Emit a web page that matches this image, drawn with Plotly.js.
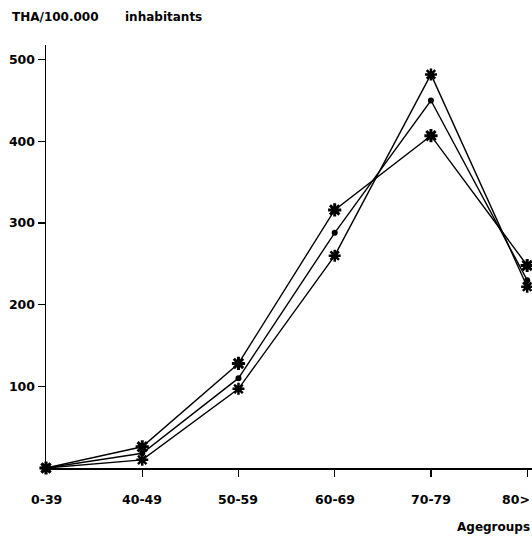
<!DOCTYPE html>
<html><head><meta charset="utf-8">
<script src="https://cdn.plot.ly/plotly-3.0.1.min.js"></script>
<style>body{margin:0;background:#fff}#c{width:532px;height:536px}</style>
</head><body><div id="c"></div>
<script>
const categories = ["0-39","40-49","50-59","60-69","70-79","80>"];
const seriesA = [0, 26, 128, 316, 407, 248];   // large asterisk, flattest peak
const seriesB = [0, 18, 110, 288, 450, 230];   // dots
const seriesC = [0, 10, 97, 260, 482, 222];    // asterisk, highest peak
const yTicks = [100, 200, 300, 400, 500];

const F = "DejaVu Sans, Arial, sans-serif";
const common = {type:'scatter', mode:'lines+markers', x:categories, cliponaxis:false,
  line:{color:'#000', width:1.4}, showlegend:false, hoverinfo:'skip'};
const traces = [
  Object.assign({}, common, {y:seriesA, marker:{symbol:'asterisk-open', size:11, color:'#000', line:{color:'#000', width:3}}}),
  Object.assign({}, common, {y:seriesB, marker:{symbol:'circle', size:6, color:'#000'}}),
  Object.assign({}, common, {y:seriesC, marker:{symbol:'asterisk-open', size:10, color:'#000', line:{color:'#000', width:2.5}}})
];

const annotations = categories.map((c,i)=>({
  x:c, y:0, xref:'x', yref:'y', text:'<b>'+c+'</b>', showarrow:false,
  xanchor: i===categories.length-1 ? 'right':'center', yanchor:'middle',
  xshift: i===categories.length-1 ? 5 : 0, yshift:-31,
  font:{family:F, size:12.5, color:'#000'}
}));
annotations.push({xref:'paper', yref:'paper', x:-0.074, y:1.066, xanchor:'left', yanchor:'middle',
  text:'<b>THA/100.000</b>', showarrow:false, font:{family:F, size:12, color:'#000'}});
annotations.push({xref:'paper', yref:'paper', x:0.158, y:1.066, xanchor:'left', yanchor:'middle',
  text:'<b>inhabitants</b>', showarrow:false, font:{family:F, size:12, color:'#000'}});
annotations.push({xref:'paper', yref:'paper', x:1, y:-0.139, xanchor:'right', yanchor:'middle',
  text:'<b>Agegroups</b>', showarrow:false, font:{family:F, size:12, color:'#000'}});

const layout = {
  width:532, height:536, paper_bgcolor:'#fff', plot_bgcolor:'#fff',
  margin:{l:46, r:0, t:45, b:68},
  xaxis:{type:'category', range:[0,5.05], showgrid:false, zeroline:false,
    showline:true, linecolor:'#000', linewidth:1.5, ticks:'outside', ticklen:7, tickwidth:1.2,
    tickcolor:'#000', showticklabels:false, tickvals:categories.slice(1)},
  yaxis:{range:[0,518], showgrid:false, zeroline:false, showline:true, linecolor:'#000', linewidth:1.5,
    ticks:'outside', ticklen:7, tickwidth:1.2, tickcolor:'#000', tickvals:yTicks,
    tickfont:{family:F, size:12.5, color:'#000', weight:'bold'}},
  annotations:annotations
};
Plotly.newPlot('c', traces, layout, {staticPlot:true});
</script></body></html>
